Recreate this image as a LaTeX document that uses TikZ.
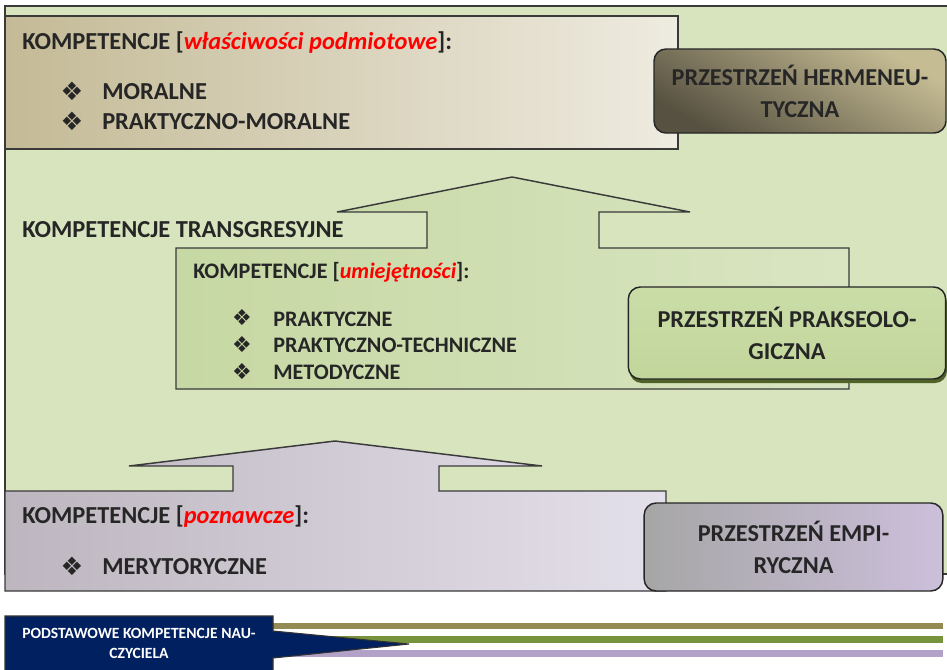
\documentclass[tikz,border=0pt]{standalone}
\usepackage{fontspec}
\setmainfont{Carlito}
\newfontfamily\symfont{DejaVu Sans}
\usetikzlibrary{shadows}

\definecolor{bggreen}{HTML}{D7E4BD}
\definecolor{topl}{HTML}{C4BA96}
\definecolor{topr}{HTML}{EEEBE0}
\definecolor{midl}{HTML}{C6D8A3}
\definecolor{midr}{HTML}{D9E5C2}
\definecolor{lowl}{HTML}{BDB6BF}
\definecolor{lowr}{HTML}{E4E0EB}
\definecolor{hermdk}{HTML}{575141}
\definecolor{hermlt}{HTML}{C6BC94}
\definecolor{praktop}{HTML}{CADDA8}
\definecolor{prakmid}{HTML}{9BBB59}
\definecolor{prakbot}{HTML}{C2D69B}
\definecolor{prakshd}{HTML}{4F6228}
\definecolor{empl}{HTML}{A6A6A6}
\definecolor{empr}{HTML}{CCBFDB}
\definecolor{navy}{HTML}{002060}
\definecolor{olivebar}{HTML}{948A54}
\definecolor{greenbar}{HTML}{77933C}
\definecolor{lavbar}{HTML}{B3A2C7}
\definecolor{txtdark}{HTML}{262626}
\definecolor{edge}{HTML}{3A3A3A}

\newcommand{\dia}{{\symfont ❖}}
\newcommand{\redit}[1]{\textcolor{red}{\itshape #1}}

\tikzset{
  bgline/.style={draw=edge,line width=1.1pt},
  ttl/.style={anchor=base west,inner sep=0pt,text=txtdark,font=\bfseries\fontsize{18.3}{21}\selectfont},
  subttl/.style={anchor=base west,inner sep=0pt,text=txtdark,font=\bfseries\fontsize{16.6}{19}\selectfont},
  itm/.style={ttl},
  subitm/.style={subttl},
  bul/.style={inner sep=0pt,text=txtdark,font=\fontsize{19}{21}\selectfont},
  subbul/.style={inner sep=0pt,text=txtdark,font=\fontsize{16.5}{18}\selectfont},
  spacebox/.style={draw=txtdark,line width=1.1pt,rounded corners=9pt,align=center,
    text=txtdark,font=\bfseries\fontsize{18.2}{24}\selectfont},
  bar/.style={line width=4.8pt}
}

\begin{document}
\begin{tikzpicture}[x=.75pt,y=-.75pt]
  \clip (0,0) rectangle (947,669);
  \useasboundingbox (0,0) rectangle (947,669);

  %% background
  \draw[bgline,fill=bggreen] (5,6) rectangle (955,574);

  %% top box
  \draw[bgline,left color=topl,right color=topr] (5,16) rectangle (678,149);

  %% middle box with arrow
  \draw[bgline,left color=midl,right color=midr] (176,248) -- (427,248) -- (427,212)
    -- (337,212) -- (512,177) -- (690,212) -- (599,212) -- (599,248) -- (849,248)
    -- (849,389) -- (176,389) -- cycle;

  %% bottom box with arrow
  \draw[bgline,left color=lowl,right color=lowr] (5,491) -- (233,491) -- (233,466)
    -- (129,466) -- (335,441) -- (542,466) -- (439,466) -- (439,491) -- (666,491)
    -- (666,591) -- (5,591) -- cycle;

  %% spaces
  \node (herm) at (800,91) [spacebox,minimum width=219pt,minimum height=63pt,
    top color=hermlt,bottom color=hermdk,shading angle=-30] {PRZESTRZEŃ HERMENEU-\\TYCZNA};
  \node (prak) at (787,333) [spacebox,minimum width=238pt,minimum height=69pt,
    top color=praktop,middle color=prakmid,bottom color=prakbot,
    drop shadow={shadow xshift=1pt,shadow yshift=-3pt,fill=prakshd,opacity=1}]
    {PRZESTRZEŃ PRAKSEOLO-\\GICZNA};
  \node (emp) at (793.5,547) [spacebox,minimum width=224pt,minimum height=66pt,
    left color=empl,right color=empr] {PRZESTRZEŃ EMPI-\\RYCZNA};

  %% top texts
  \node (t1) at (22,49) [ttl] {KOMPETENCJE [\redit{właściwości podmiotowe}]:};
  \node (b11) at (72,91) [bul] {\dia};
  \node (i11) at (102,99) [itm] {MORALNE};
  \node (b12) at (72,121) [bul] {\dia};
  \node (i12) at (102,129) [itm] {PRAKTYCZNO-MORALNE};

  \node (trans) at (22,237) [ttl] {KOMPETENCJE TRANSGRESYJNE};

  %% middle texts
  \node (t2) at (193,278) [subttl] {KOMPETENCJE [\redit{umiejętności}]:};
  \node (b21) at (242,318) [subbul] {\dia};
  \node (i21) at (273,326) [subitm] {PRAKTYCZNE};
  \node (b22) at (242,345) [subbul] {\dia};
  \node (i22) at (273,352) [subitm] {PRAKTYCZNO-TECHNICZNE};
  \node (b23) at (242,372) [subbul] {\dia};
  \node (i23) at (273,379) [subitm] {METODYCZNE};

  %% bottom texts
  \node (t3) at (22,523) [ttl] {KOMPETENCJE [\redit{poznawcze}]:};
  \node (b31) at (72,566) [bul] {\dia};
  \node (i31) at (102,574) [itm] {MERYTORYCZNE};

  %% bars
  \draw[bar,olivebar] (273,626) -- (943,626);
  \draw[bar,greenbar] (273,639.5) -- (943,639.5);
  \draw[bar,lavbar] (273,653.5) -- (943,653.5);

  %% label
  \draw[fill=navy,draw=black!80,line width=.8pt] (5,616) -- (273,616) -- (273,631)
    -- (409,644) -- (273,658) -- (273,672) -- (5,672) -- cycle;
  \node (base) at (139,643) [align=center,text=white,
    font=\bfseries\fontsize{11.7}{15}\selectfont] {PODSTAWOWE KOMPETENCJE NAU-\\CZYCIELA};
\end{tikzpicture}
\end{document}
